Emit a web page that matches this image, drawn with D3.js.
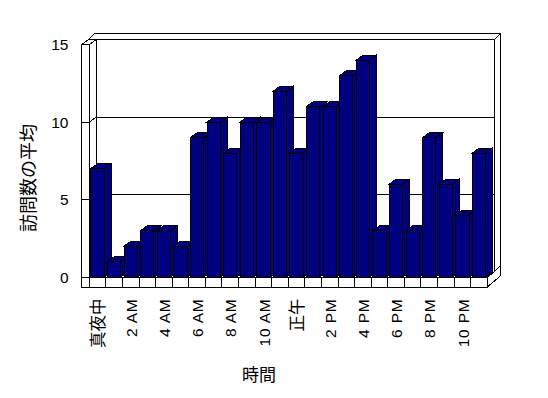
<!DOCTYPE html>
<html><head><meta charset="utf-8">
<script src="https://cdn.jsdelivr.net/npm/d3@7/dist/d3.min.js"></script>
<style>
html,body{margin:0;padding:0;background:#fff;}
svg{display:block;}
</style></head>
<body>
<script>
const categories = ["真夜中","1 AM","2 AM","3 AM","4 AM","5 AM","6 AM","7 AM","8 AM","9 AM","10 AM","11 AM",
  "正午","1 PM","2 PM","3 PM","4 PM","5 PM","6 PM","7 PM","8 PM","9 PM","10 PM","11 PM"];
const values = [7,1,2,3,3,2,9,10,8,10,10,12,8,11,11,13,14,3,6,3,9,6,4,8];
const yTicks = [0,5,10,15];
const yGrid = [5,10];
const xTitle = "時間";
const yTitle = "訪問数の平均";

const W = 548, H = 398;
const X0 = 89.3, X1 = 487.3, Y0 = 277, YT = 44.5;
const DX = 7, DY = -5;          // depth of plot
const LW = 7.7;                  // left wall thickness
const BTX = 6, BTY = -6;         // back wall thickness
const FT = 10;                   // floor thickness
const NAVY = "#000080";

const svg = d3.select("body").append("svg").attr("width", W).attr("height", H);

const x = d3.scaleBand().domain(categories).range([X0, X1]).paddingInner(0.2).paddingOuter(0.1);
const y = d3.scaleLinear().domain([0, 15]).range([Y0, YT]);
const step = x.step();

const poly = pts => "M" + pts.map(p => p.join(",")).join("L") + "Z";
const g = svg.append("g").attr("shape-rendering", "crispEdges");
const face = (pts, fill) => g.append("path").attr("d", poly(pts)).attr("fill", fill || "#fff")
  .attr("stroke", "#000").attr("stroke-width", 1);

const yTop = y(15), yBot = y(0);
// back wall slab: top and right faces
face([[X0 - LW + DX, yTop + DY], [X0 - LW + DX + BTX, yTop + DY + BTY], [X1 + DX + BTX, yTop + DY + BTY], [X1 + DX, yTop + DY]]);
face([[X1 + DX, yTop + DY], [X1 + DX + BTX, yTop + DY + BTY], [X1 + DX + BTX, yBot + DY + BTY], [X1 + DX, yBot + DY]]);
// back wall front face
face([[X0 + DX, yTop + DY], [X1 + DX, yTop + DY], [X1 + DX, yBot + DY], [X0 + DX, yBot + DY]]);
// floor slab: top, right, front
face([[X0, yBot], [X1, yBot], [X1 + DX, yBot + DY], [X0 + DX, yBot + DY]]);
face([[X1, yBot], [X1 + DX, yBot + DY], [X1 + DX + BTX, yBot + DY + BTY], [X1 + DX + BTX, yBot + DY + BTY + FT], [X1, yBot + FT]]);
face([[X0 - LW, yBot], [X1, yBot], [X1, yBot + FT], [X0 - LW, yBot + FT]]);
// left wall: inner, top, front
face([[X0, yTop], [X0 + DX, yTop + DY], [X0 + DX, yBot + DY], [X0, yBot]]);
face([[X0 - LW, yTop], [X0, yTop], [X0 + DX, yTop + DY], [X0 - LW + DX, yTop + DY]]);
face([[X0 - LW, yTop], [X0, yTop], [X0, yBot + FT], [X0 - LW, yBot + FT]]);

// gridlines on walls
yGrid.forEach(v => {
  g.append("path").attr("fill", "none").attr("stroke", "#000")
    .attr("d", `M${X0},${y(v)}L${X0 + DX},${y(v) + DY}L${X1 + DX},${y(v) + DY}`);
});
// value ticks across left wall front face
yTicks.forEach(v => {
  g.append("line").attr("x1", X0 - LW).attr("x2", X0).attr("y1", y(v)).attr("y2", y(v)).attr("stroke", "#000");
});
// category ticks on floor front face
d3.range(1, categories.length + 1).forEach(i => {
  const xx = X0 + i * step;
  g.append("line").attr("x1", xx).attr("x2", xx).attr("y1", yBot).attr("y2", yBot + FT).attr("stroke", "#000");
});

// bars
categories.forEach((c, i) => {
  const v = values[i];
  const bx = x(c), bw = x.bandwidth(), by = y(v);
  face([[bx, by], [bx + bw, by], [bx + bw, yBot], [bx, yBot]], NAVY);
  face([[bx, by], [bx + DX, by + DY], [bx + bw + DX, by + DY], [bx + bw, by]], NAVY);
  face([[bx + bw, by], [bx + bw + DX, by + DY], [bx + bw + DX, yBot + DY], [bx + bw, yBot]], NAVY);
});

// y tick labels
const latin = "'Liberation Sans', Arial, sans-serif";
const cjk = "'Noto Sans CJK JP', sans-serif";
svg.append("g").selectAll("text").data(yTicks).join("text")
  .attr("x", 68.5).attr("y", d => y(d)).attr("dy", "0.36em")
  .attr("text-anchor", "end").attr("font-family", latin).attr("font-size", 15.5).attr("fill", "#000")
  .text(d => d);

// x tick labels (every other category)
const isCJK = s => /[\u3000-\u9fff]/.test(s);
svg.append("g").selectAll("text").data(categories.filter((c, i) => i % 2 === 0)).join("text")
  .attr("transform", d => `translate(${x(d) + x.bandwidth() / 2 + 0.5},298.5) rotate(-90)`)
  .attr("dy", "0.36em").attr("text-anchor", "end")
  .attr("font-family", d => isCJK(d) ? cjk : latin)
  .attr("font-size", d => isCJK(d) ? 16.5 : 15.5)
  .attr("letter-spacing", d => isCJK(d) ? 0 : 0.8)
  .attr("fill", "#000")
  .text(d => d);

// axis titles
svg.append("text").attr("x", 259).attr("y", 375).attr("dy", "0.36em").attr("text-anchor", "middle")
  .attr("font-family", cjk).attr("font-size", 17).attr("fill", "#000").text(xTitle);
svg.append("text").attr("transform", "translate(29,178) rotate(-90)").attr("dy", "0.36em")
  .attr("text-anchor", "middle").attr("font-family", cjk).attr("font-size", 18).attr("fill", "#000")
  .text(yTitle);
</script>
</body></html>
